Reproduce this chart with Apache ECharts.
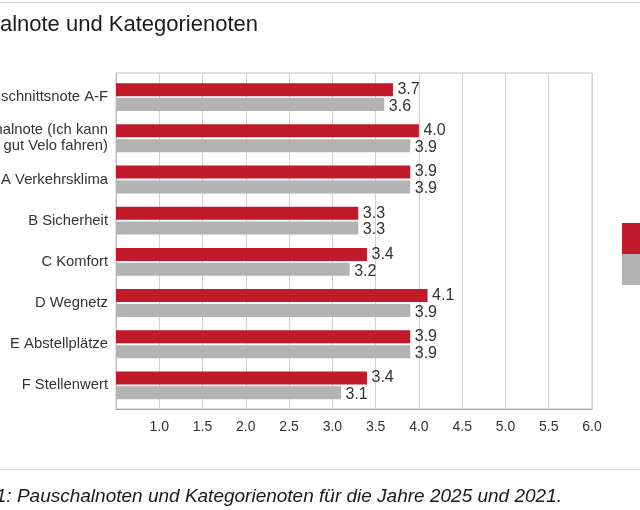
<!DOCTYPE html>
<html>
<head>
<meta charset="utf-8">
<script src="https://cdn.jsdelivr.net/npm/echarts@6/dist/echarts.min.js"></script>
<style>
  html, body { margin: 0; padding: 0; background: #fff; }
  #chart { width: 640px; height: 510px; }
</style>
</head>
<body>
<div id="chart"></div>
<script>
const categories = [
  'Durchschnittsnote A-F',
  'Pauschalnote (Ich kann\ngut Velo fahren)',
  'A Verkehrsklima',
  'B Sicherheit',
  'C Komfort',
  'D Wegnetz',
  'E Abstellplätze',
  'F Stellenwert'
]
const years = ['2025', '2021']
const values2025 = [3.7, 4.0, 3.9, 3.3, 3.4, 4.1, 3.9, 3.4]
const values2021 = [3.6, 3.9, 3.9, 3.3, 3.2, 3.9, 3.9, 3.1]
const titleText = 'Pauschalnote und Kategorienoten'
const captionText = 'Abbildung 1: Pauschalnoten und Kategorienoten für die Jahre 2025 und 2021.'

const font = '"Liberation Sans", Arial, sans-serif'
const red = '#c01a2b'
const grey = '#b3b3b3'

const chart = echarts.init(document.getElementById('chart'))

const valueLabel = (dy) => ({
  show: true,
  position: 'right',
  distance: 4.5,
  offset: [0, dy],
  fontFamily: font,
  fontSize: 16,
  color: '#333',
  formatter: p => p.value.toFixed(1)
})

// grid 0 draws the frame, gridlines and x labels; grid 1 holds the bars (slightly inset vertically)
chart.setOption({
  animation: false,
  backgroundColor: '#fff',
  textStyle: { fontFamily: font },
  grid: [
    {
      left: 116, right: 48, top: 73, bottom: 101,
      outerBoundsMode: 'none',
      show: true, borderColor: '#c4c4c4', borderWidth: 1
    },
    {
      left: 116, right: 48, top: 76.5, bottom: 104,
      outerBoundsMode: 'none'
    }
  ],
  legend: {
    data: years,
    orient: 'vertical',
    left: 622, top: 223,
    padding: 0,
    itemWidth: 31, itemHeight: 31, itemGap: 0,
    icon: 'rect',
    selectedMode: false,
    textStyle: { fontFamily: font, fontSize: 14, color: '#333' }
  },
  xAxis: [
    {
      type: 'value', gridIndex: 0,
      min: 0.5, max: 6.0, interval: 0.5,
      axisLine: { show: true, lineStyle: { color: '#a6a6a6' } },
      axisTick: { show: false },
      splitLine: { show: true, lineStyle: { color: '#d0d0d0' } },
      axisLabel: {
        showMinLabel: false,
        margin: 11,
        fontFamily: font, fontSize: 14, color: '#333',
        formatter: v => v.toFixed(1)
      }
    },
    {
      type: 'value', gridIndex: 1,
      min: 0.5, max: 6.0, interval: 0.5,
      show: false
    }
  ],
  yAxis: [
    {
      type: 'category', gridIndex: 0,
      data: categories,
      axisLine: { show: true, lineStyle: { color: '#bdbdbd' } },
      axisTick: { show: false },
      axisLabel: { show: false },
      splitLine: { show: false }
    },
    {
      type: 'category', gridIndex: 1,
      inverse: true,
      data: categories,
      axisLine: { show: false },
      axisTick: { show: false },
      splitLine: { show: false },
      axisLabel: {
        margin: 8,
        fontFamily: font, fontSize: 14.8, color: '#333',
        lineHeight: 16,
        padding: [2, 0, 0, 0]
      }
    }
  ],
  series: [
    {
      name: years[0], type: 'bar', data: values2025,
      xAxisIndex: 1, yAxisIndex: 1,
      barWidth: 13, barGap: '14%',
      itemStyle: { color: red },
      label: valueLabel(0)
    },
    {
      name: years[1], type: 'bar', data: values2021,
      xAxisIndex: 1, yAxisIndex: 1,
      barWidth: 13, barGap: '14%',
      itemStyle: { color: grey },
      label: valueLabel(2)
    }
  ],
  graphic: [
    { type: 'line', shape: { x1: 0, y1: 2.5, x2: 640, y2: 2.5 }, style: { stroke: '#d6d6d6', lineWidth: 1 } },
    { type: 'line', shape: { x1: 0, y1: 469.5, x2: 640, y2: 469.5 }, style: { stroke: '#dcdcdc', lineWidth: 1 } },
    {
      type: 'text', x: 258, y: 25,
      style: { text: titleText, font: '22px ' + font, fill: '#1a1a1a', align: 'right', verticalAlign: 'middle' }
    },
    {
      type: 'text', x: 562, y: 497,
      style: { text: captionText, font: 'italic 19px ' + font, fill: '#1a1a1a', align: 'right', verticalAlign: 'middle' }
    }
  ]
})

window.addEventListener('resize', () => {
  chart.resize()
})
</script>
</body>
</html>
